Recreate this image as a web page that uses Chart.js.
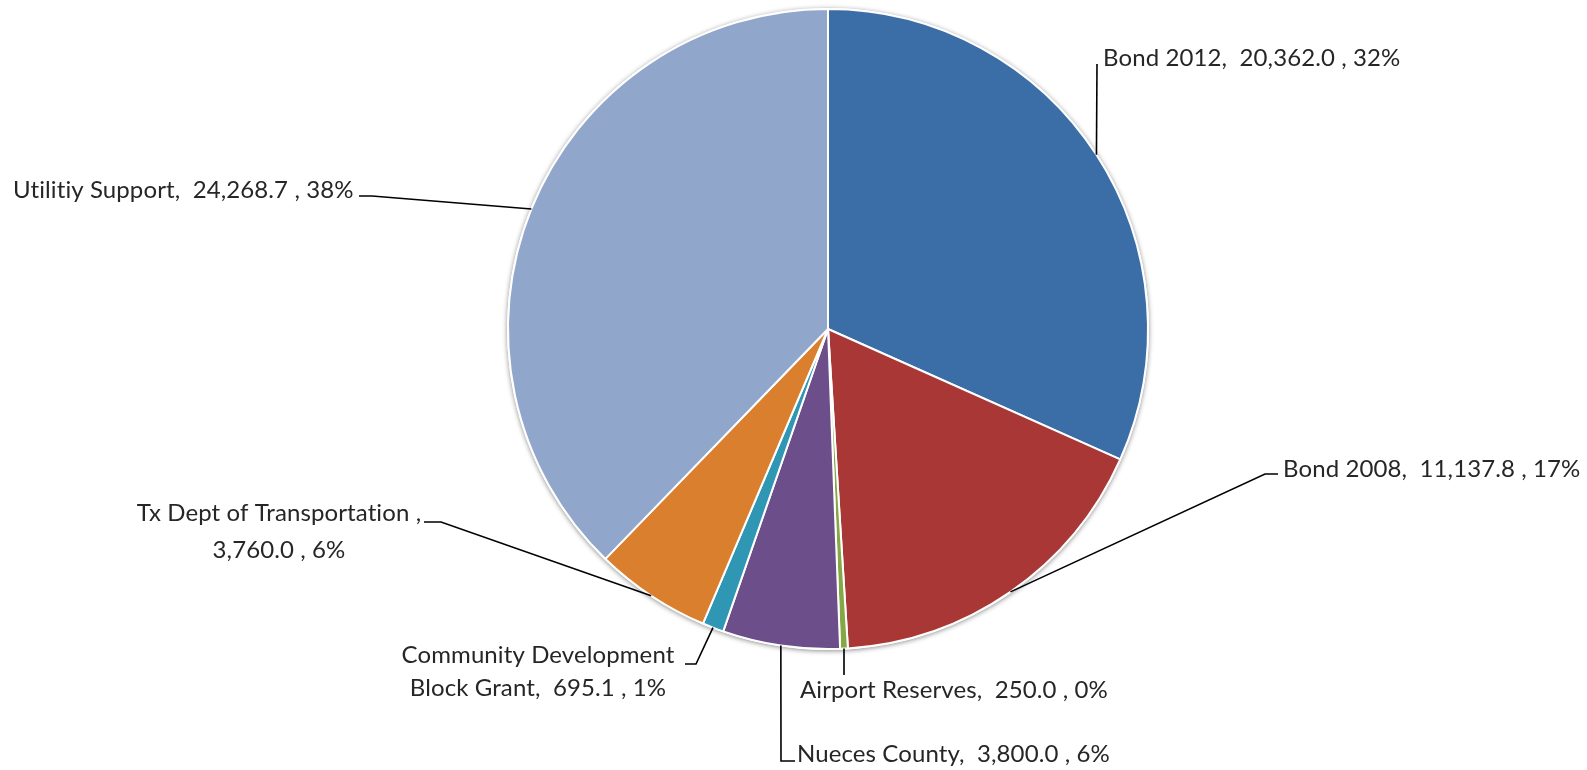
<!DOCTYPE html>
<html>
<head>
<meta charset="utf-8">
<script src="https://cdn.jsdelivr.net/npm/chart.js@4.4.1/dist/chart.umd.min.js"></script>
<style>
  html, body { margin: 0; padding: 0; background: #fff; }
  canvas { display: block; }
</style>
</head>
<body>
<canvas id="fundChart" width="1587" height="770"></canvas>
<script>
// data
const categories = [
  "Bond 2012",
  "Bond 2008",
  "Airport Reserves",
  "Nueces County",
  "Community Development Block Grant",
  "Tx Dept of Transportation ",
  "Utilitiy Support"
];
const amounts = [20362.0, 11137.8, 250.0, 3800.0, 695.1, 3760.0, 24268.7];
const sliceColors = ["#3B6EA6", "#A83735", "#86A844", "#6C4F8A", "#2F96B3", "#D97F2E", "#91A6CB"];

// label placement (one per slice, same order)
const labelLayout = [
  { leader: [[1097, 64]], x: 1103, y: 58, align: "left" },
  { leader: [[1265, 474], [1278, 474]], x: 1283, y: 469, align: "left" },
  { leader: [[844, 675]], x: 800, y: 690, align: "left" },
  { leader: [[781, 761], [795, 761]], x: 797, y: 754, align: "left" },
  { leader: [[696, 664], [685, 664]], x: 538, y: 655, align: "center", breakAfter: "Community Development", lineGap: 33 },
  { leader: [[441, 522], [424, 522]], x: 279, y: 513, align: "center", breakAfter: ",", lineGap: 37 },
  { leader: [[372, 196], [359, 196]], x: 13, y: 190, align: "left" }
];

const total = amounts.reduce((a, b) => a + b, 0);
const numFmt = new Intl.NumberFormat("en-US", { minimumFractionDigits: 1, maximumFractionDigits: 1 });

function labelLines(i) {
  const pct = Math.round(amounts[i] / total * 100);
  const text = categories[i] + ",  " + numFmt.format(amounts[i]) + " , " + pct + "%";
  const brk = labelLayout[i].breakAfter;
  if (!brk) return [text];
  const k = text.indexOf(brk) + brk.length;
  return [text.slice(0, k), text.slice(k).trim()];
}

// soft shadow under the pie
const pieShadow = {
  id: "pieShadow",
  beforeDatasetsDraw(chart) {
    const arc = chart.getDatasetMeta(0).data[0];
    if (!arc) return;
    const ctx = chart.ctx;
    ctx.save();
    ctx.shadowColor = "rgba(0,0,0,0.45)";
    ctx.shadowBlur = 5;
    ctx.shadowOffsetX = 0;
    ctx.shadowOffsetY = 1;
    ctx.fillStyle = "#fff";
    ctx.beginPath();
    ctx.arc(arc.x, arc.y, arc.outerRadius + 1, 0, Math.PI * 2);
    ctx.fill();
    ctx.restore();
  }
};

// callout labels with leader lines
const calloutLabels = {
  id: "calloutLabels",
  afterDatasetsDraw(chart) {
    const ctx = chart.ctx;
    const arcs = chart.getDatasetMeta(0).data;
    ctx.save();
    arcs.forEach((arc, i) => {
      const lay = labelLayout[i];
      const mid = (arc.startAngle + arc.endAngle) / 2;
      const sx = arc.x + Math.cos(mid) * arc.outerRadius;
      const sy = arc.y + Math.sin(mid) * arc.outerRadius;
      ctx.strokeStyle = "#000";
      ctx.lineWidth = 1.6;
      ctx.beginPath();
      ctx.moveTo(sx, sy);
      lay.leader.forEach(p => ctx.lineTo(p[0], p[1]));
      ctx.stroke();

      ctx.fillStyle = "#262626";
      ctx.font = "24px Lato, 'Open Sans', sans-serif";
      ctx.letterSpacing = "0.1px"; // keeps "ti" from turning into a ligature
      ctx.textAlign = lay.align;
      ctx.textBaseline = "middle";
      labelLines(i).forEach((line, j) => {
        ctx.fillText(line, lay.x, lay.y + j * (lay.lineGap || 0));
      });
    });
    ctx.restore();
  }
};

new Chart(document.getElementById("fundChart"), {
  type: "pie",
  data: {
    labels: categories,
    datasets: [
      {
        data: amounts,
        backgroundColor: sliceColors,
        borderColor: "#ffffff",
        borderWidth: 2
      }
    ]
  },
  options: {
    responsive: false,
    animation: false,
    layout: {
      padding: { left: 507, right: 438, top: 8, bottom: 120 }
    },
    plugins: {
      legend: { display: false },
      tooltip: { enabled: false }
    }
  },
  plugins: [pieShadow, calloutLabels]
});
</script>
</body>
</html>
